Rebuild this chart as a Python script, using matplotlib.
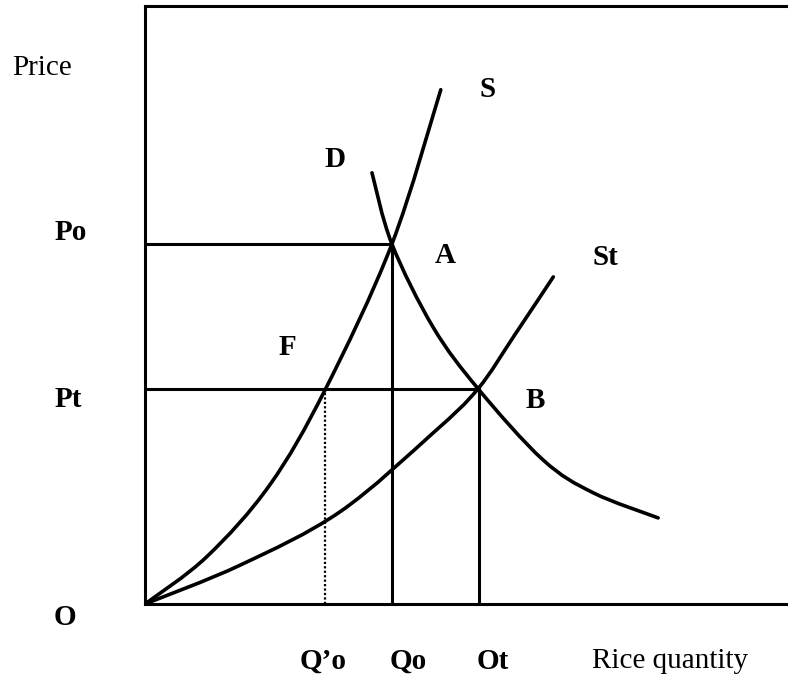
import matplotlib.pyplot as plt
from matplotlib.path import Path
from matplotlib.patches import PathPatch

# quantity / price values (axes run 0..100)
s_q = [0, 9.6, 19.4, 28.0, 38.4, 46.0]
s_p = [0, 7.9, 19.9, 35.8, 60.2, 86.0]

st_q = [0, 14.8, 30.3, 44.8, 51.8, 57.5, 63.5]
st_p = [0, 6.5, 15.4, 28.6, 36.0, 45.0, 54.7]

d_q = [35.3, 38.4, 44.8, 51.8, 61.9, 69.7, 79.8]
d_p = [72.1, 60.2, 46.3, 36.0, 24.1, 18.6, 14.4]

# equilibrium points
q_o, p_o = 38.4, 60.2      # A
q_t, p_t = 52.0, 36.0      # B
q_o_prime = 28.0           # S at Pt

W, H = 788, 679


def smooth(xs, ys):
    # catmull-rom through the read points, drawn as cubic bezier segments
    pts = list(zip(xs, ys))
    verts, codes = [pts[0]], [Path.MOVETO]
    for i in range(len(pts) - 1):
        p0 = pts[i - 1] if i > 0 else pts[i]
        p1, p2 = pts[i], pts[i + 1]
        p3 = pts[i + 2] if i + 2 < len(pts) else p2
        c1 = (p1[0] + (p2[0] - p0[0]) / 6, p1[1] + (p2[1] - p0[1]) / 6)
        c2 = (p2[0] - (p3[0] - p1[0]) / 6, p2[1] - (p3[1] - p1[1]) / 6)
        verts += [c1, c2, p2]
        codes += [Path.CURVE4] * 3
    return Path(verts, codes)


fig = plt.figure(figsize=(W / 100, H / 100), dpi=100)
ax = fig.add_axes([145 / W, 75 / H, 643 / W, 598 / H])
ax.set_xlim(0, 100)
ax.set_ylim(0, 100)
ax.set_xticks([]); ax.set_yticks([])
for side in ['left', 'top', 'bottom']:
    ax.spines[side].set_linewidth(2.2)
ax.spines['right'].set_visible(False)

for xs, ys in [(s_q, s_p), (st_q, st_p), (d_q, d_p)]:
    ax.add_patch(PathPatch(smooth(xs, ys), fill=False, edgecolor='black', lw=2.6,
                           capstyle='round', joinstyle='round'))

# guide lines
ax.plot([0, q_o], [p_o, p_o], color='black', lw=2.2)
ax.plot([q_o, q_o], [0, p_o], color='black', lw=2.2)
ax.plot([0, q_t], [p_t, p_t], color='black', lw=2.2)
ax.plot([q_t, q_t], [0, p_t], color='black', lw=2.2)
ax.plot([q_o_prime, q_o_prime], [0, p_t], color='black', lw=1.6, ls=(0, (1, 1)))


def label(px, py, s, bold=True):
    fig.text(px / W, 1 - py / H, s, ha='center', va='baseline', fontsize=21,
             family='Liberation Serif', fontweight='bold' if bold else 'normal')


label(42, 75, 'Price', bold=False)
label(71, 240, 'Po')
label(68, 407, 'Pt')
label(65, 625, 'O')
label(323, 669, 'Q\u2019o')
label(408, 669, 'Qo')
label(493, 669, 'Ot')
label(670, 668, 'Rice quantity', bold=False)
label(488, 97, 'S')
label(335, 167, 'D')
label(445, 263, 'A')
label(605, 265, 'St')
label(287, 355, 'F')
label(535, 408, 'B')

fig.savefig('out.png', dpi=100)
